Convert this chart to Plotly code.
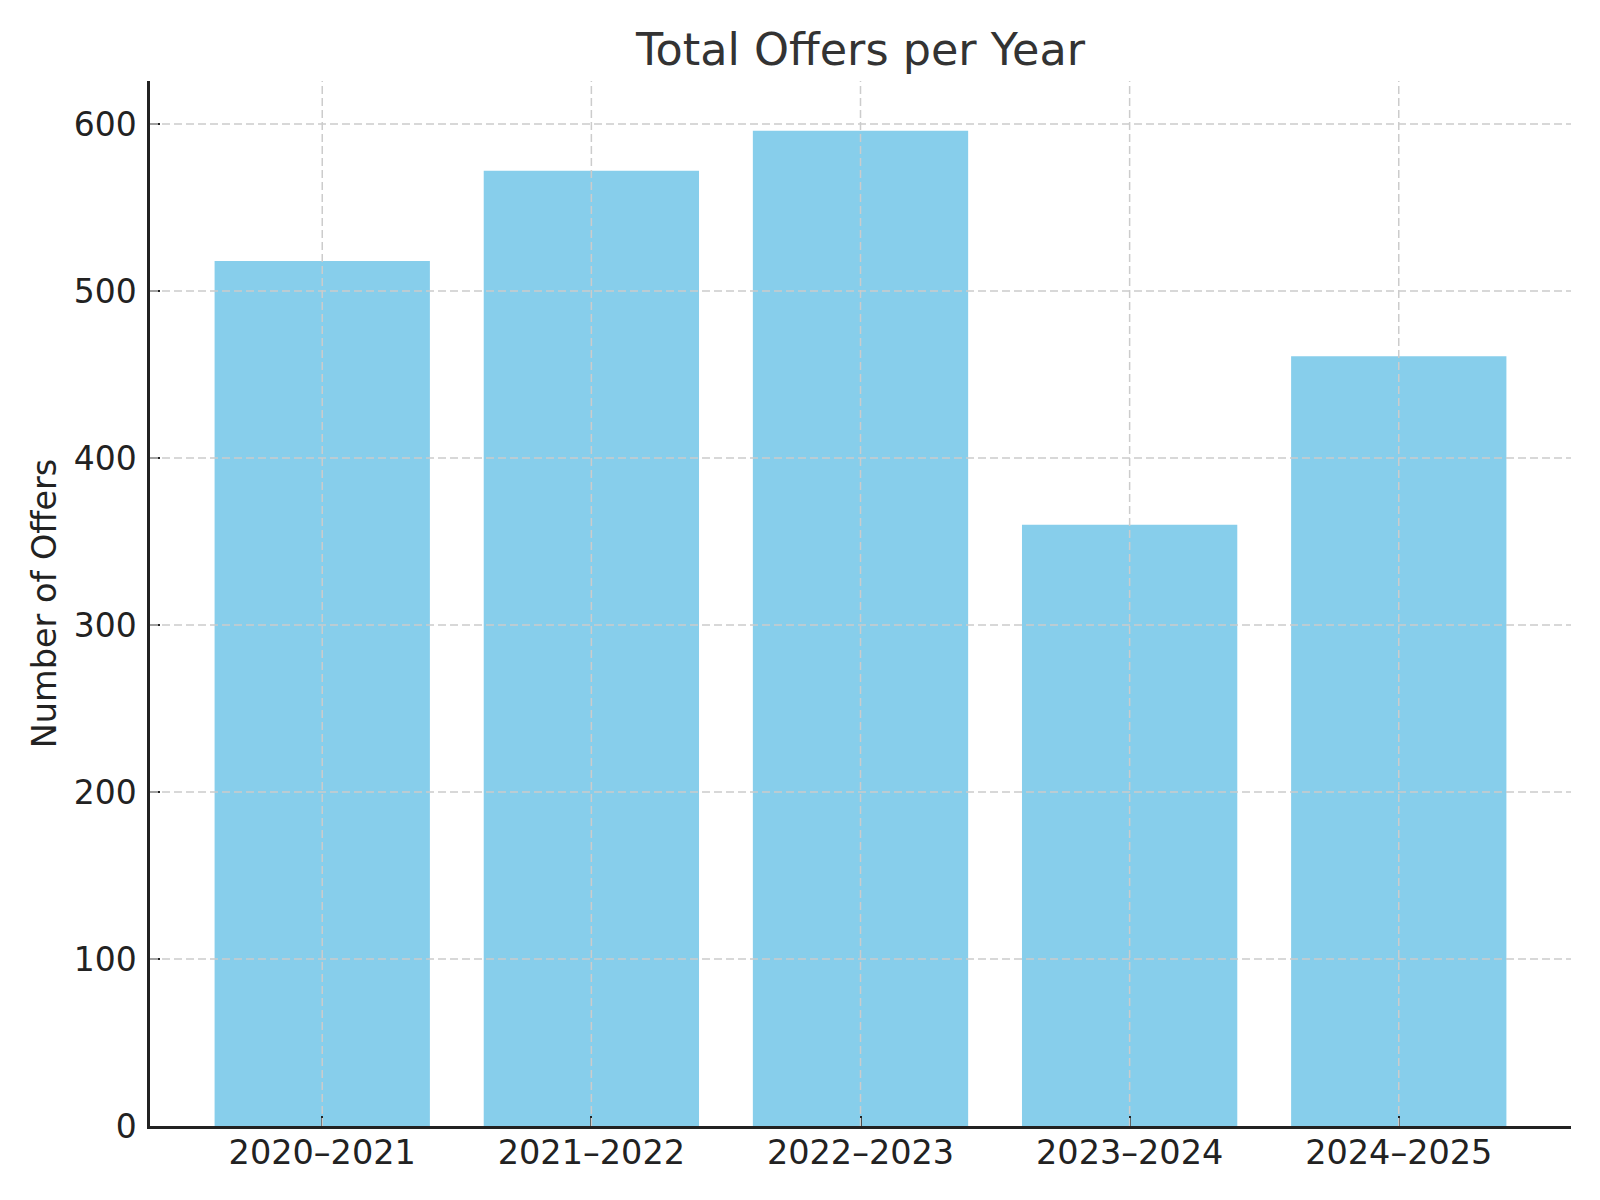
import plotly.graph_objects as go

categories = ["2020–2021", "2021–2022", "2022–2023", "2023–2024", "2024–2025"]
offers = [518, 572, 596, 360, 461]
y_ticks = [0, 100, 200, 300, 400, 500, 600]

fig = go.Figure()
fig.add_trace(go.Bar(
    x=list(range(len(categories))), y=offers,
    width=0.8, marker=dict(color="#87CEEB", line=dict(width=0)),
))

grid_style = dict(color="#cccccc", width=1.5, dash="8px,4px")
# grid lines drawn above bars (as in the reference)
for yv in y_ticks[1:]:
    fig.add_shape(type="line", xref="paper", yref="y", x0=0, x1=1, y0=yv, y1=yv,
                  line=grid_style, layer="above")
for i in range(len(categories)):
    fig.add_shape(type="line", xref="x", yref="paper", x0=i, x1=i, y0=0, y1=1,
                  line=grid_style, layer="above")

font_family = "DejaVu Sans"
L, R = 142, 37
fig.update_layout(
    width=1600, height=1200,
    paper_bgcolor="white", plot_bgcolor="white",
    margin=dict(l=L, r=R, t=73, b=82, autoexpand=False),
    title=dict(text="Total Offers per Year", x=(L + 1600 - R) / 2 / 1600, xref="container", xanchor="center",
               y=1 - 41/1200, yref="container", yanchor="middle",
               font=dict(family=font_family, size=44.5, color="#333333")),
    showlegend=False,
)
fig.update_xaxes(
    range=[-0.64, 4.64], tickmode="array", tickvals=list(range(len(categories))),
    ticktext=categories,
    showline=True, linecolor="#222222", linewidth=2.5,
    ticks="inside", ticklen=10, tickwidth=2, tickcolor="#222222",
    showgrid=False, ticklabelstandoff=-5,
    tickfont=dict(family=font_family, size=33.5, color="#222222"),
    layer="above traces", zeroline=False, mirror=False, automargin=False,
)
fig.update_yaxes(
    range=[0, 625.8], tickmode="array", tickvals=y_ticks,
    showline=True, linecolor="#222222", linewidth=2.5,
    ticks="inside", ticklen=10, tickwidth=2, tickcolor="#222222",
    showgrid=False, ticklabelstandoff=4,
    tickfont=dict(family=font_family, size=33, color="#222222"),
    title=dict(text="Number of Offers", font=dict(family=font_family, size=33.5, color="#222222"), standoff=7),
    layer="above traces", zeroline=False, mirror=False, automargin=False,
)

fig.write_html("out.html")
